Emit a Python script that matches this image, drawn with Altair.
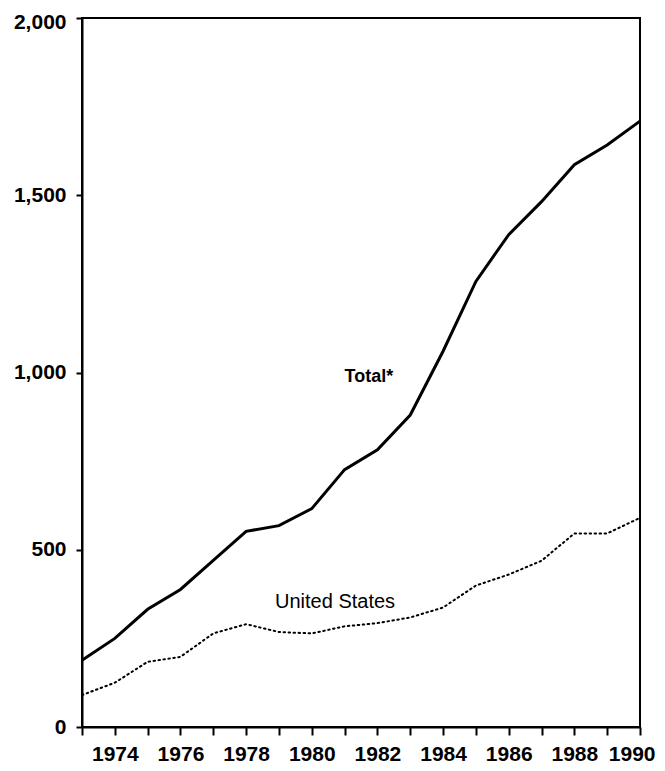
import altair as alt
import pandas as pd

years = list(range(1973, 1991))
total = [188, 250, 332, 388, 470, 552, 568, 616, 726, 782, 880, 1060, 1257, 1389, 1482, 1586, 1642, 1709]
us = [90, 125, 184, 198, 264, 290, 268, 264, 284, 293, 309, 337, 399, 430, 469, 546, 546, 590]
y_ticks = [0, 500, 1000, 1500, 2000]

label_text = ["Total*", "United States"]
label_year = [1981.0, 1980.71]
label_value = [972, 337]

df = pd.DataFrame({"year": years + years,
                   "value": total + us,
                   "series": ["Total"] * len(years) + ["United States"] * len(years)})
lab = pd.DataFrame({"year": label_year, "value": label_value, "text": label_text})

FONT = "Liberation Sans"

xs = alt.Scale(domain=[1973, 1990], nice=False, zero=False)
ys = alt.Scale(domain=[0, 2000], nice=False)

xaxis = alt.Axis(values=years, tickCount=len(years), tickSize=8, tickWidth=2, tickColor="black",
                 domainColor="black", domainWidth=2, grid=False, title=None,
                 labelExpr="datum.value % 2 == 0 ? format(datum.value, 'd') : ''",
                 labelOverlap=False,
                 labelFont=FONT, labelFontSize=21, labelFontWeight="bold",
                 labelColor="black", labelPadding=8,
                 labelFlush=True, labelFlushOffset=15)
yaxis = alt.Axis(values=y_ticks, tickCount=len(y_ticks), labelExpr="format(datum.value, ',d')",
                 tickSize=6, tickWidth=2,
                 tickColor="black", domainColor="black", domainWidth=2, grid=False,
                 labelOverlap=False,
                 labelOffset={"condition": {"test": "datum.value == 2000", "value": 4}, "value": 0},
                 title=None, labelFont=FONT, labelFontSize=21, labelFontWeight="bold",
                 labelColor="black", labelPadding=10)

base = alt.Chart(df)
total_line = base.transform_filter(alt.datum.series == "Total").mark_line(
    color="black", strokeWidth=3).encode(
    x=alt.X("year:Q", scale=xs, axis=xaxis),
    y=alt.Y("value:Q", scale=ys, axis=yaxis))
us_line = base.transform_filter(alt.datum.series == "United States").mark_line(
    color="black", strokeWidth=2, strokeDash=[1.5, 3.5], strokeCap="round").encode(
    x=alt.X("year:Q", scale=xs),
    y=alt.Y("value:Q", scale=ys))

t1 = alt.Chart(lab.iloc[[0]]).mark_text(font=FONT, fontSize=18, fontWeight="bold",
                                       align="left", baseline="alphabetic", color="black").encode(
    x=alt.X("year:Q", scale=xs), y=alt.Y("value:Q", scale=ys), text="text:N")
t2 = alt.Chart(lab.iloc[[1]]).mark_text(font=FONT, fontSize=20, fontWeight="normal",
                                       align="center", baseline="alphabetic", color="black").encode(
    x=alt.X("year:Q", scale=xs), y=alt.Y("value:Q", scale=ys), text="text:N")

chart = alt.layer(total_line, us_line, t1, t2).properties(
    width=558, height=709,
    autosize=alt.AutoSizeParams(type="none"),
    padding={"left": 74, "top": 10, "right": 17, "bottom": 36},
    background="white",
).configure_view(stroke="black", strokeWidth=2)

chart.save("out.html", embed_options={"renderer": "svg", "actions": False})
